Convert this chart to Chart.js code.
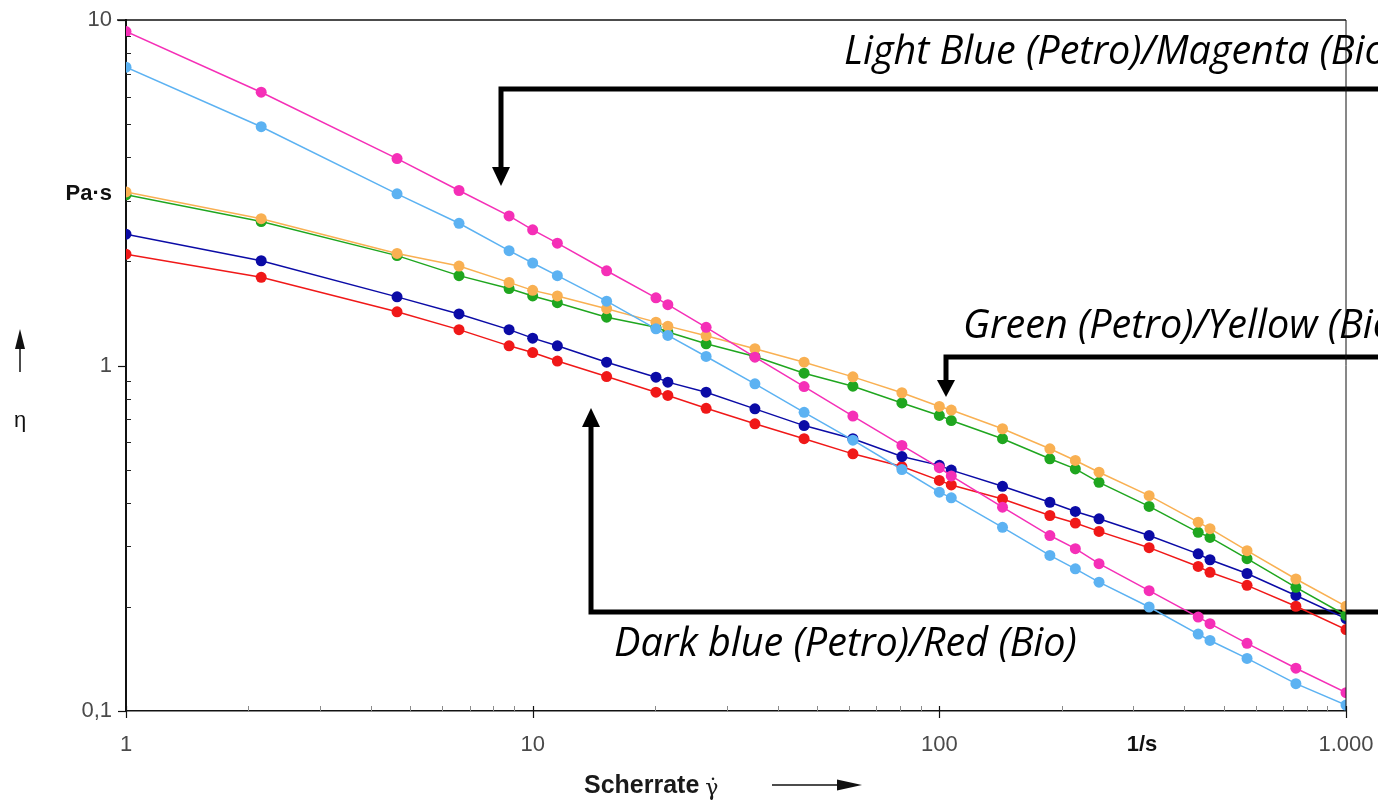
<!DOCTYPE html>
<html>
<head>
<meta charset="utf-8">
<script src="https://cdn.jsdelivr.net/npm/chart.js@4.4.1/dist/chart.umd.min.js"></script>
<style>
  html, body { margin: 0; padding: 0; background: #fff; }
  canvas { display: block; }
</style>
</head>
<body>
<canvas id="c" width="1378" height="811"></canvas>
<script>
// ---------- data ----------
const shearRate = [1, 2.15, 4.64, 6.59, 8.75, 10, 11.5, 15.2, 20.1, 21.5, 26.7, 35.2, 46.5, 61.3, 80.9, 100, 107, 143, 187, 216, 247, 328, 433, 463, 571, 753, 1000];

const magentaBio    = [9.26, 6.18, 3.97, 3.21, 2.71, 2.47, 2.26, 1.88, 1.57, 1.50, 1.29, 1.057, 0.869, 0.714, 0.587, 0.506, 0.479, 0.389, 0.322, 0.295, 0.267, 0.223, 0.187, 0.179, 0.157, 0.133, 0.113];
const lightBluePetro = [7.30, 4.91, 3.14, 2.58, 2.15, 1.98, 1.82, 1.535, 1.277, 1.222, 1.062, 0.885, 0.732, 0.608, 0.500, 0.430, 0.414, 0.340, 0.282, 0.258, 0.236, 0.200, 0.167, 0.160, 0.142, 0.120, 0.104];
const yellowBio     = [3.18, 2.66, 2.11, 1.94, 1.74, 1.65, 1.59, 1.46, 1.335, 1.30, 1.22, 1.118, 1.022, 0.927, 0.834, 0.761, 0.743, 0.656, 0.574, 0.531, 0.491, 0.420, 0.352, 0.337, 0.291, 0.241, 0.201];
const greenPetro    = [3.12, 2.61, 2.08, 1.82, 1.67, 1.59, 1.52, 1.38, 1.29, 1.25, 1.156, 1.062, 0.950, 0.871, 0.779, 0.717, 0.693, 0.614, 0.537, 0.502, 0.459, 0.391, 0.329, 0.318, 0.276, 0.228, 0.189];
const darkBluePetro = [2.40, 2.01, 1.58, 1.41, 1.27, 1.20, 1.14, 1.022, 0.925, 0.895, 0.837, 0.749, 0.670, 0.614, 0.545, 0.514, 0.498, 0.447, 0.402, 0.378, 0.360, 0.322, 0.285, 0.274, 0.250, 0.216, 0.185];
const redBio        = [2.10, 1.80, 1.43, 1.27, 1.14, 1.09, 1.03, 0.929, 0.837, 0.819, 0.752, 0.678, 0.614, 0.555, 0.510, 0.465, 0.451, 0.411, 0.368, 0.350, 0.331, 0.297, 0.262, 0.252, 0.231, 0.201, 0.172];

const xTickValues = [1, 10, 100, 315, 1000];
const xTickLabels = ['1', '10', '100', '1/s', '1.000'];
const yTickValues = [0.1, 1, 3.146, 10];
const yTickLabels = ['0,1', '1', 'Pa·s', '10'];
const unitLabels = ['1/s', 'Pa·s'];

const noteTop = 'Light Blue (Petro)/Magenta (Bio)';
const noteMid = 'Green (Petro)/Yellow (Bio)';
const noteLow = 'Dark blue (Petro)/Red (Bio)';
const xTitle = 'Scherrate';
const xTitleSym = 'γ̇';
const yTitle = 'η';

// ---------- build datasets ----------
function series(label, values, color) {
  return {
    label: label,
    data: shearRate.map((x, i) => ({ x: x, y: values[i] })),
    borderColor: color,
    backgroundColor: color,
    pointBackgroundColor: color,
    pointBorderColor: color,
    borderWidth: 1.5,
    pointRadius: 5.5,
    pointBorderWidth: 0,
    tension: 0,
    fill: false
  };
}

const datasets = [
  series('Magenta (Bio)', magentaBio, '#f52fb7'),
  series('Light Blue (Petro)', lightBluePetro, '#5cb2f2'),
  series('Yellow (Bio)', yellowBio, '#f9b052'),
  series('Green (Petro)', greenPetro, '#1fa61f'),
  series('Dark blue (Petro)', darkBluePetro, '#0b0ba6'),
  series('Red (Bio)', redBio, '#f01818')
];

const tickFont = (ctx) => {
  const lab = ctx.tick && ctx.tick.label;
  return unitLabels.includes(lab)
    ? { family: '"Liberation Sans", Arial, sans-serif', size: 22, weight: 'bold' }
    : { family: '"Liberation Sans", Arial, sans-serif', size: 22, weight: 'normal' };
};
const tickColor = (ctx) => {
  const lab = ctx.tick && ctx.tick.label;
  return unitLabels.includes(lab) ? '#111' : '#4a4a4a';
};

// ---------- drawing helpers ----------
function polyline(ctx, pts) {
  ctx.beginPath();
  ctx.moveTo(pts[0][0], pts[0][1]);
  for (let i = 1; i < pts.length; i++) ctx.lineTo(pts[i][0], pts[i][1]);
  ctx.stroke();
}
function head(ctx, tipX, tipY, dir, half, len) {
  ctx.beginPath();
  if (dir === 'down') {
    ctx.moveTo(tipX, tipY); ctx.lineTo(tipX - half, tipY - len); ctx.lineTo(tipX + half, tipY - len);
  } else if (dir === 'up') {
    ctx.moveTo(tipX, tipY); ctx.lineTo(tipX - half, tipY + len); ctx.lineTo(tipX + half, tipY + len);
  } else {
    ctx.moveTo(tipX, tipY); ctx.lineTo(tipX - len, tipY - half); ctx.lineTo(tipX - len, tipY + half);
  }
  ctx.closePath();
  ctx.fill();
}

const annotations = {
  id: 'annotations',
  beforeDatasetsDraw(chart) {
    const ctx = chart.ctx;
    const W = chart.width;
    ctx.save();
    ctx.strokeStyle = '#000';
    ctx.fillStyle = '#000';
    ctx.lineWidth = 5;
    ctx.lineJoin = 'miter';
    ctx.lineCap = 'butt';

    // top annotation arrow
    polyline(ctx, [[W, 89], [501, 89], [501, 169]]);
    head(ctx, 501, 186, 'down', 9, 19);
    // middle annotation arrow
    polyline(ctx, [[W, 357], [946, 357], [946, 381]]);
    head(ctx, 946, 397, 'down', 9, 17);
    // lower annotation arrow
    polyline(ctx, [[W, 612], [591, 612], [591, 426]]);
    head(ctx, 591, 408, 'up', 9, 19);

    // annotation texts
    ctx.font = 'italic 32px "Open Sans", "Noto Sans", sans-serif';
    const w = ctx.measureText(noteLow).width;
    const size = 32 * 463 / w;
    ctx.font = 'italic ' + size.toFixed(2) + 'px "Open Sans", "Noto Sans", sans-serif';
    ctx.textBaseline = 'alphabetic';
    ctx.textAlign = 'left';
    ctx.fillText(noteTop, 844, 64);
    ctx.fillText(noteMid, 963, 338);
    ctx.fillText(noteLow, 614, 656);
    ctx.restore();
  },
  afterDraw(chart) {
    const ctx = chart.ctx;
    const a = chart.chartArea;
    const xs = chart.scales.x, ys = chart.scales.y;
    ctx.save();
    // frame (top and right)
    ctx.strokeStyle = '#111';
    ctx.lineWidth = 1.5;
    polyline(ctx, [[a.left - 9, a.top], [a.right, a.top]]);
    ctx.lineWidth = 1;
    polyline(ctx, [[a.right, a.top], [a.right, a.bottom]]);

    // x tick marks
    for (let d = 1; d < 1000; d *= 10) {
      for (let m = 2; m <= 9; m++) {
        const px = Math.round(xs.getPixelForValue(d * m)) + 0.5;
        ctx.strokeStyle = '#8a8a8a'; ctx.lineWidth = 1;
        polyline(ctx, [[px, a.bottom], [px, a.bottom - 5]]);
      }
    }
    [1, 10, 100, 1000].forEach(v => {
      const px = Math.round(xs.getPixelForValue(v)) + 0.5;
      ctx.strokeStyle = '#111'; ctx.lineWidth = 1.2;
      polyline(ctx, [[px, a.bottom - 5], [px, a.bottom + 7]]);
    });
    // y tick marks
    for (let d = 0.1; d < 9; d *= 10) {
      for (let m = 2; m <= 9; m++) {
        const py = Math.round(ys.getPixelForValue(d * m)) + 0.5;
        ctx.strokeStyle = '#222'; ctx.lineWidth = 1;
        polyline(ctx, [[a.left, py], [a.left + 5, py]]);
      }
    }
    [0.1, 1, 10].forEach(v => {
      const py = Math.round(ys.getPixelForValue(v)) + 0.5;
      ctx.strokeStyle = '#111'; ctx.lineWidth = 1.2;
      polyline(ctx, [[a.left - 8, py], [a.left, py]]);
    });

    // axis titles
    ctx.fillStyle = '#1a1a1a';
    ctx.textAlign = 'left';
    ctx.textBaseline = 'alphabetic';
    ctx.font = 'bold 25px "Liberation Sans", Arial, sans-serif';
    ctx.fillText(xTitle, 584, 793);
    const tw = ctx.measureText(xTitle).width;
    ctx.font = '22px "DejaVu Serif", "Liberation Serif", serif';
    ctx.fillText(xTitleSym, 584 + tw + 6, 795);
    // x arrow
    ctx.strokeStyle = '#111'; ctx.fillStyle = '#111'; ctx.lineWidth = 1.5;
    polyline(ctx, [[772, 785], [840, 785]]);
    head(ctx, 862, 785, 'right', 5.5, 25);
    // y title and arrow
    ctx.font = '22px "Liberation Sans", Arial, sans-serif';
    ctx.textAlign = 'center';
    ctx.textBaseline = 'middle';
    ctx.fillText(yTitle, 20, 421);
    polyline(ctx, [[20, 372], [20, 348]]);
    head(ctx, 20, 329, 'up', 5, 20);
    ctx.restore();
  }
};

new Chart(document.getElementById('c'), {
  type: 'line',
  data: { datasets: datasets },
  plugins: [annotations],
  options: {
    responsive: false,
    animation: false,
    devicePixelRatio: 1,
    layout: { padding: { top: 20, right: 32, left: 0, bottom: 0 } },
    plugins: { legend: { display: false }, tooltip: { enabled: false } },
    scales: {
      x: {
        type: 'logarithmic',
        min: 1, max: 1000,
        grid: { display: false, drawTicks: false },
        border: { display: true, color: '#111', width: 1.5 },
        afterBuildTicks: (s) => { s.ticks = xTickValues.map(v => ({ value: v })); },
        afterFit: (s) => { s.height = 100; s.paddingLeft = 0; s.paddingRight = 0; },
        ticks: {
          autoSkip: false, maxRotation: 0, padding: 21,
          callback: (v, i) => xTickLabels[i],
          font: tickFont, color: tickColor
        }
      },
      y: {
        type: 'logarithmic',
        min: 0.1, max: 10,
        grid: { display: false, drawTicks: false },
        border: { display: true, color: '#111', width: 2 },
        afterBuildTicks: (s) => { s.ticks = yTickValues.map(v => ({ value: v })); },
        afterFit: (s) => { s.width = 126; s.paddingTop = 0; s.paddingBottom = 0; },
        ticks: {
          autoSkip: false, padding: 14,
          callback: (v, i) => yTickLabels[i],
          font: tickFont, color: tickColor
        }
      }
    }
  }
});
</script>
</body>
</html>
